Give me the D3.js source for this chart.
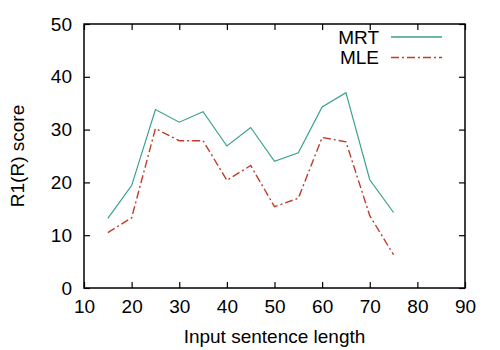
<!DOCTYPE html>
<html>
<head>
<meta charset="utf-8">
<script src="https://cdn.jsdelivr.net/npm/d3@7"></script>
<style>
  body { margin: 0; background: #fff; }
  text { font-family: "Liberation Sans", Arial, sans-serif; }
</style>
</head>
<body>
<div id="chart"></div>
<script>
// sentence lengths and scores
var lengths = [15, 20, 25, 30, 35, 40, 45, 50, 55, 60, 65, 70, 75];
var mrtScores = [13.2, 19.4, 33.8, 31.4, 33.4, 26.9, 30.4, 24.0, 25.6, 34.3, 37.0, 20.5, 14.3];
var mleScores = [10.5, 13.3, 30.2, 27.9, 27.9, 20.4, 23.2, 15.4, 17.0, 28.5, 27.7, 13.7, 6.3];
var xTicks = [10, 20, 30, 40, 50, 60, 70, 80, 90];
var yTicks = [0, 10, 20, 30, 40, 50];

var W = 500, H = 350;
var margin = { top: 24, right: 35, bottom: 62, left: 84 };
var width = W - margin.left - margin.right,
    height = H - margin.top - margin.bottom;
var fontSize = "19px";

var svg = d3.select("#chart").append("svg")
    .attr("width", W)
    .attr("height", H);

var g = svg.append("g")
    .attr("transform", "translate(" + margin.left + "," + margin.top + ")");

var x = d3.scaleLinear().domain([10, 90]).range([0, width]);
var y = d3.scaleLinear().domain([0, 50]).range([height, 0]);

// Axes with inward ticks (gnuplot style, mirrored)
g.append("g")
    .attr("transform", "translate(0," + height + ")")
    .call(d3.axisBottom(x).tickValues(xTicks).tickSizeInner(-6).tickSizeOuter(0).tickPadding(12))
    .call(function (s) { s.select(".domain").remove(); });
g.append("g")
    .call(d3.axisTop(x).tickValues(xTicks).tickSizeInner(-6).tickSizeOuter(0).tickFormat(""))
    .call(function (s) { s.select(".domain").remove(); });
g.append("g")
    .call(d3.axisLeft(y).tickValues(yTicks).tickSizeInner(-6).tickSizeOuter(0).tickPadding(12))
    .call(function (s) { s.select(".domain").remove(); });
g.append("g")
    .attr("transform", "translate(" + width + ",0)")
    .call(d3.axisRight(y).tickValues(yTicks).tickSizeInner(-6).tickSizeOuter(0).tickFormat(""))
    .call(function (s) { s.select(".domain").remove(); });

g.selectAll(".tick text")
    .style("font-size", fontSize)
    .attr("fill", "#000");
g.selectAll(".tick line").attr("stroke", "#000").attr("stroke-width", 1.2);

// frame
g.append("rect")
    .attr("width", width)
    .attr("height", height)
    .attr("fill", "none")
    .attr("stroke", "#000")
    .attr("stroke-width", 1.5);

var mrtColor = "#3aa08e", mleColor = "#c23b2a";

var line = d3.line()
    .x(function (d) { return x(d[0]); })
    .y(function (d) { return y(d[1]); });

g.append("path")
    .datum(d3.zip(lengths, mrtScores))
    .attr("fill", "none")
    .attr("stroke", mrtColor)
    .attr("stroke-width", 1.2)
    .attr("d", line);

g.append("path")
    .datum(d3.zip(lengths, mleScores))
    .attr("fill", "none")
    .attr("stroke", mleColor)
    .attr("stroke-width", 1.4)
    .attr("stroke-dasharray", "8,3,2,3")
    .attr("d", line);

// Legend
var legend = [["MRT", mrtColor, null], ["MLE", mleColor, "8,3,2,3"]];
legend.forEach(function (item, i) {
    var ly = 13 + i * 20.5;
    g.append("text")
        .attr("x", 295)
        .attr("y", ly)
        .attr("dy", "0.35em")
        .attr("text-anchor", "end")
        .style("font-size", fontSize)
        .text(item[0]);
    g.append("line")
        .attr("x1", 307).attr("x2", 358)
        .attr("y1", ly).attr("y2", ly)
        .attr("stroke", item[1])
        .attr("stroke-width", 1.3)
        .attr("stroke-dasharray", item[2]);
});

// Axis labels
svg.append("text")
    .attr("x", margin.left + width / 2)
    .attr("y", 343)
    .attr("text-anchor", "middle")
    .style("font-size", fontSize)
    .text("Input sentence length");

svg.append("text")
    .attr("transform", "translate(24," + (margin.top + height / 2) + ")rotate(-90)")
    .attr("text-anchor", "middle")
    .style("font-size", fontSize)
    .text("R1(R) score");
</script>
</body>
</html>
